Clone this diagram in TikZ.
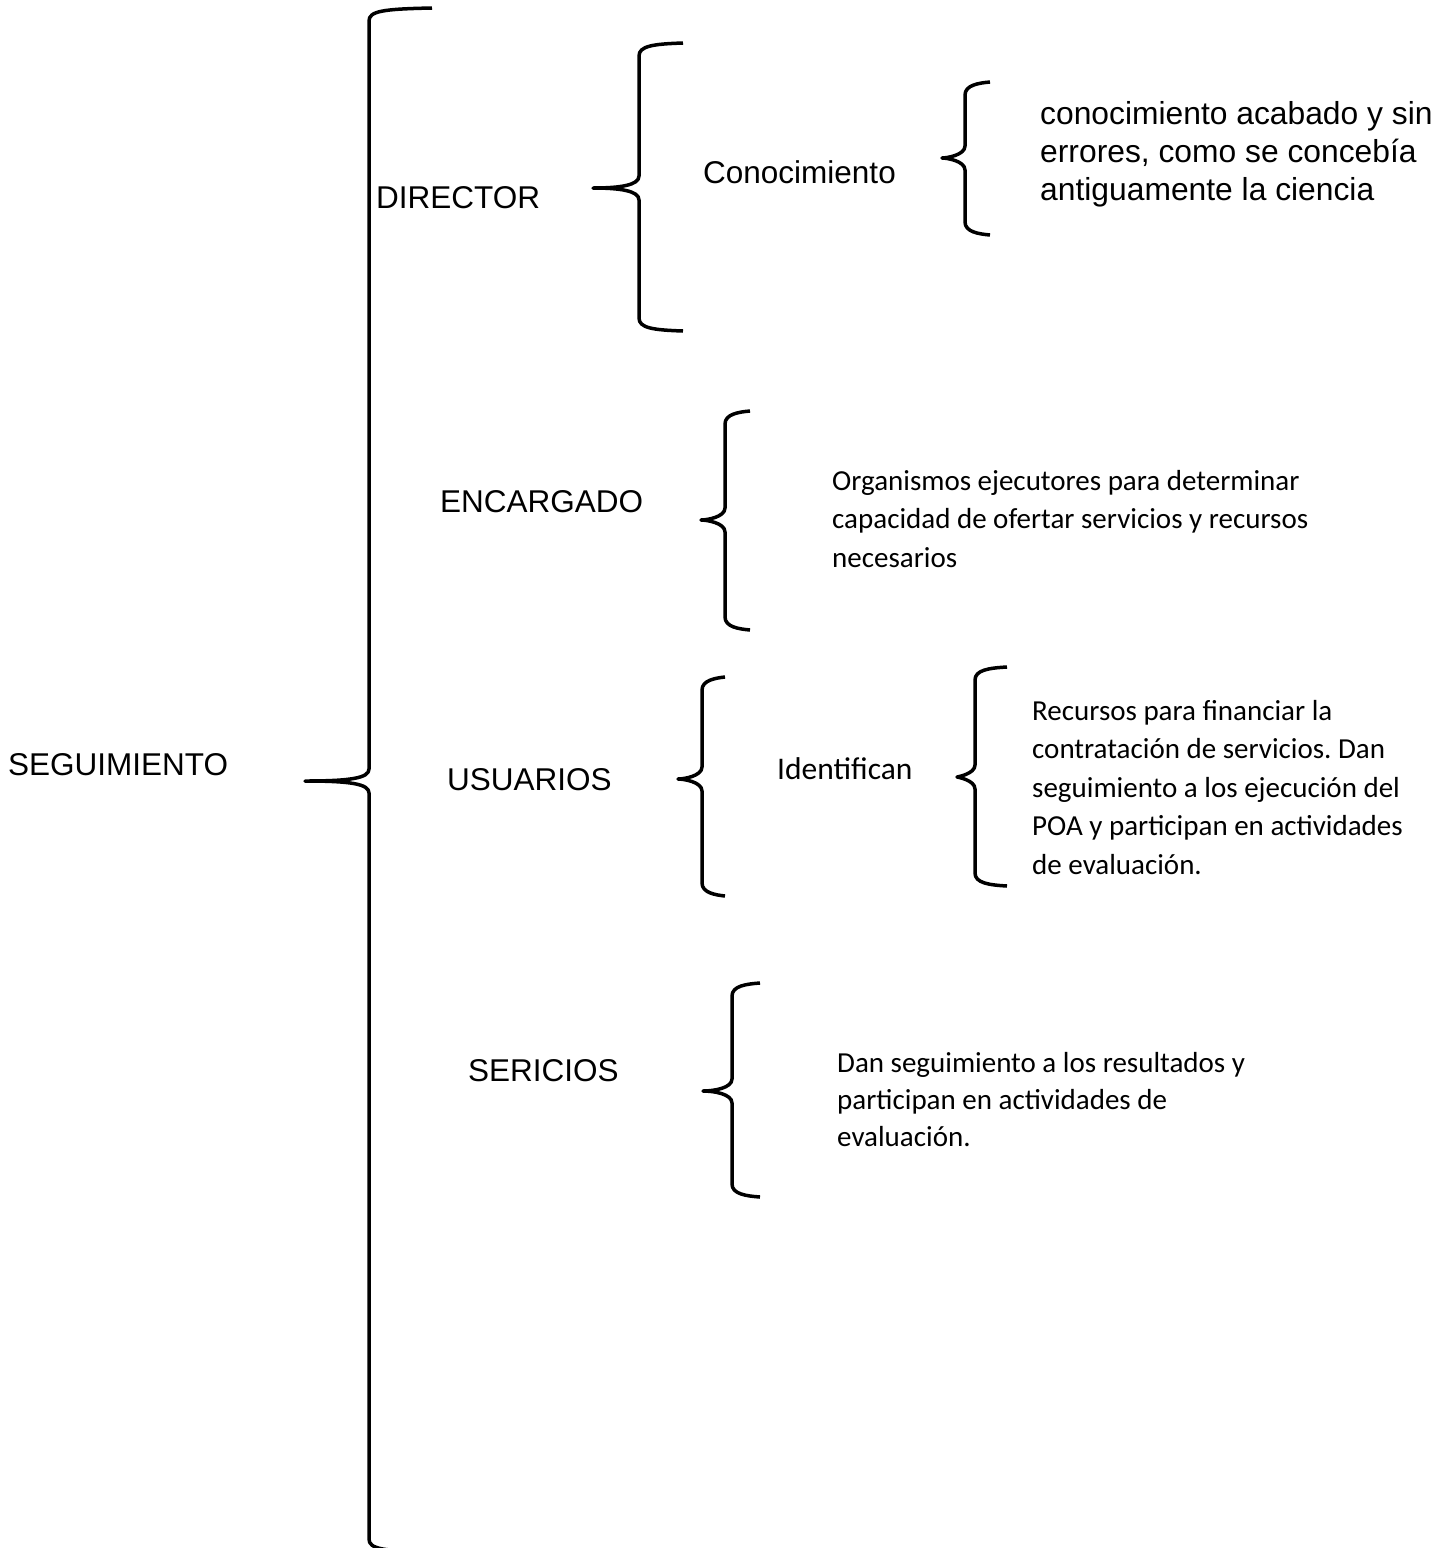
\documentclass[tikz,border=0pt]{standalone}
\usepackage{fontspec}
\setmainfont{Liberation Sans}
\newfontfamily\calibri{Carlito}
\frenchspacing

% llave: punta x, x vertical, x brazo, y arriba, y punta, y abajo
\newcommand{\llave}[6]{%
  \draw[trazo] (#3,#4) .. controls (#2+14,#4+1) and (#2,#4+3) .. (#2,#4+13)
    -- (#2,#5-12) .. controls (#2,#5-3) and (#2-18,#5) .. (#1,#5)
    .. controls (#2-18,#5) and (#2,#5+3) .. (#2,#5+12)
    -- (#2,#6-13) .. controls (#2,#6-3) and (#2+14,#6-1) .. (#3,#6);
}

\tikzset{
  trazo/.style={line width=3.5pt, line join=round},
  etiqueta/.style={inner sep=0pt, anchor=west, font=\fontsize{31.5}{38}\selectfont},
  nota/.style={inner sep=0pt, anchor=base west, align=flush left, text width=500pt,
    font=\calibri\fontsize{29}{38.5}\selectfont}
}

\begin{document}
\begin{tikzpicture}[x=1pt, y=-1pt]

    \useasboundingbox (0,0) rectangle (1454,1548);

    % Llaves
    \llave{305}{369}{432}{8}{781}{1552}
    \llave{593}{639}{683}{43}{188}{331}
    \llave{942}{965}{990}{82}{158}{235}
    \llave{701}{725}{750}{411}{520}{630}
    \llave{678}{702}{725}{677}{779}{896}
    \llave{957}{975}{1007}{667}{777}{886}
    \llave{703}{732}{760}{983}{1091}{1197}

    % Titulos
    \node[etiqueta] (seguimiento) at (8,765) {SEGUIMIENTO};
    \node[etiqueta] (director) at (376,198) {DIRECTOR};
    \node[etiqueta] (encargado) at (440,502) {ENCARGADO};
    \node[etiqueta] (usuarios) at (447,780) {USUARIOS};
    \node[etiqueta] (sericios) at (468,1071) {SERICIOS};
    \node[etiqueta] (conocimiento) at (703,172) {Conocimiento};
    \node[etiqueta, font=\calibri\fontsize{31.5}{38}\selectfont] (identifican) at (777,769) {Identifican};

    % Textos
    \node[nota, font=\fontsize{31.8}{38}\selectfont] (defConoc) at (1040,124)
        {conocimiento acabado y sin\\errores, como se concebía\\antiguamente la ciencia};
    \node[nota] (defEncargado) at (832,490)
        {Organismos ejecutores para determinar\\capacidad de ofertar servicios y recursos\\necesarios};
    \node[nota] (defIdentifican) at (1032,720)
        {Recursos para financiar la\\contratación de servicios. Dan\\seguimiento a los ejecución del\\POA y participan en actividades\\de evaluación.};
    \node[nota, font=\calibri\fontsize{29}{37}\selectfont] (defSericios) at (837,1072)
        {Dan seguimiento a los resultados y\\participan en actividades de\\evaluación.};

\end{tikzpicture}
\end{document}
